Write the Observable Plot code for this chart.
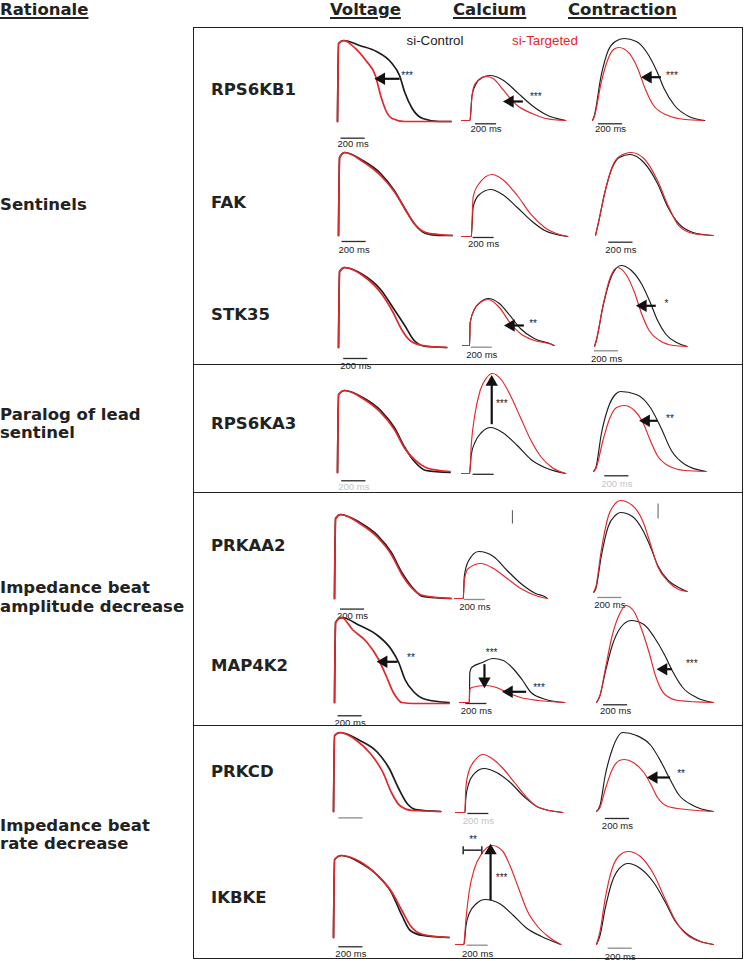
<!DOCTYPE html>
<html><head><meta charset="utf-8">
<script src="https://cdn.jsdelivr.net/npm/d3@7"></script>
<script src="https://cdn.jsdelivr.net/npm/@observablehq/plot@0.6"></script>
<style>
html,body{margin:0;padding:0;background:#fff;}
#root{position:relative;width:744px;height:961px;overflow:hidden;background:#fff;}
.lbl{position:absolute;font-family:"DejaVu Sans",Verdana,sans-serif;font-weight:bold;font-size:16.5px;color:#222;line-height:18.4px;white-space:nowrap;}
.hdr{line-height:19.2px;text-decoration:underline;text-underline-offset:1.5px;text-decoration-thickness:1.5px;}
.leg{position:absolute;font-family:"Liberation Sans",Arial,sans-serif;font-size:13.3px;white-space:nowrap;transform:translate(-50%,-50%);}
.box{position:absolute;border:1.5px solid #222;box-sizing:border-box;}
.sep{position:absolute;height:0;border-top:1.5px solid #222;}
</style></head>
<body><div id="root"></div>
<script>
// ---------------- DATA (time in ms, amplitude in a.u.) ----------------
const headers = ["Rationale", "Voltage", "Calcium", "Contraction"];
const genes = ["RPS6KB1", "FAK", "STK35", "RPS6KA3", "PRKAA2", "MAP4K2", "PRKCD", "IKBKE"];
const rationales = [["Sentinels"], ["Paralog of lead", "sentinel"], ["Impedance beat", "amplitude decrease"], ["Impedance beat", "rate decrease"]];
const legendLabels = ["si-Control", "si-Targeted"];
const scaleBarMs = 200;

// Voltage
const V_RPS6KB1_c = [[0,0],[9,78],[52,81],[183,76],[322,70],[444,59],[513,46],[557,29],[618,13],[705,3],[844,0],[940,0]];
const V_RPS6KB1_t = [[0,0],[9,78],[52,81],[148,73],[235,61],[313,46],[357,26],[400,11],[452,3],[557,0],[940,0]];
const V_FAK_c = [[0,0],[9,78],[52,83],[200,75],[348,62],[461,45],[548,27],[626,12],[722,2],[827,0],[940,0]];
const V_FAK_t = [[0,0],[9,78],[52,83],[200,74],[348,60],[461,44],[548,27],[626,12],[722,3],[827,1],[940,0]];
const V_STK35_c = [[0,0],[9,76],[52,80],[200,73],[348,58],[461,38],[548,22],[626,7],[722,1],[896,0]];
const V_STK35_t = [[0,0],[9,76],[52,80],[200,72],[348,55],[452,35],[522,18],[592,7],[696,2],[896,0]];
const V_RPS6KA3_c = [[0,0],[9,78],[61,82],[209,75],[357,62],[470,45],[557,25],[644,10],[731,2],[931,0]];
const V_RPS6KA3_t = [[0,0],[9,78],[61,82],[209,74],[357,60],[470,43],[557,24],[644,12],[731,5],[844,2],[931,1]];
const V_PRKAA2_c = [[0,0],[9,80],[50,84],[209,76],[357,63],[470,46],[557,26],[644,11],[731,2],[966,0]];
const V_PRKAA2_t = [[0,0],[9,80],[50,84],[209,75],[357,61],[470,44],[557,24],[644,10],[731,3],[966,0]];
const V_MAP4K2_c = [[0,0],[9,80],[58,85],[209,77],[357,67],[470,53],[531,40],[583,23],[661,10],[757,3],[948,0]];
const V_MAP4K2_t = [[0,0],[9,80],[58,85],[148,73],[270,60],[365,43],[426,27],[487,10],[557,0],[650,-1],[948,-1]];
const V_PRKCD_c = [[0,0],[9,76],[55,79],[218,71],[365,59],[461,43],[539,23],[609,8],[679,2],[887,0]];
const V_PRKCD_t = [[0,0],[9,76],[55,79],[191,71],[305,58],[409,39],[479,19],[548,6],[653,1],[887,0]];
const V_IKBKE_c = [[0,0],[9,78],[67,82],[218,75],[365,62],[479,45],[566,22],[635,7],[740,2],[957,0]];
const V_IKBKE_t = [[0,0],[9,78],[67,82],[218,76],[365,62],[479,46],[566,27],[635,12],[740,3],[957,0]];

// Calcium
const C_RPS6KB1_c = [[0,0],[80,0],[100,25],[140,37],[200,43],[270,45],[400,40],[530,28],[670,15],[800,6],[990,0]];
const C_RPS6KB1_t = [[0,0],[80,0],[100,25],[130,37],[230,44],[300,42],[400,30],[530,15],[670,7],[800,2],[990,0]];
const C_FAK_c = [[0,0],[93,0],[110,29],[160,41],[277,47],[390,42],[530,29],[660,16],[790,6],[1010,0]];
const C_FAK_t = [[0,0],[93,0],[110,39],[160,52],[290,62],[390,57],[530,41],[660,22],[790,9],[930,2],[1010,0]];
const C_STK35_c = [[0,0],[67,0],[73,23],[117,37],[167,43],[243,47],[350,42],[450,30],[550,17],[680,7],[850,1],[870,0]];
const C_STK35_t = [[0,0],[67,0],[73,23],[117,37],[167,43],[243,46],[350,38],[450,23],[550,12],[680,5],[850,1],[870,0]];
const C_RPS6KA3_c = [[0,0],[77,0],[93,19],[127,31],[190,41],[277,46],[390,41],[530,28],[660,14],[790,6],[990,0]];
const C_RPS6KA3_t = [[0,0],[77,0],[93,29],[127,59],[177,83],[240,96],[293,100],[377,94],[460,79],[560,56],[660,33],[760,16],[860,6],[990,0]];
const C_PRKAA2_c = [[0,0],[83,0],[93,22],[130,37],[230,47],[370,42],[500,28],[630,15],[770,5],[870,1],[880,0]];
const C_PRKAA2_t = [[0,0],[83,0],[93,18],[130,30],[250,35],[370,30],[500,20],[630,10],[770,3],[880,0]];
const C_MAP4K2_c = [[0,0],[93,0],[98,30],[115,35],[217,40],[317,44],[417,42],[517,33],[600,22],[680,10],[820,3],[1000,0]];
const C_MAP4K2_t = [[0,0],[93,0],[98,13],[115,15],[250,17],[350,15],[450,10],[580,5],[750,2],[1000,0]];
const C_PRKCD_c = [[0,0],[90,0],[97,13],[123,28],[190,40],[270,44],[390,40],[520,30],[660,15],[790,5],[1020,0]];
const C_PRKCD_t = [[0,0],[90,0],[97,23],[123,40],[190,53],[260,58],[360,53],[460,43],[560,30],[660,17],[790,5],[1020,0]];
const C_IKBKE_c = [[0,0],[80,0],[100,19],[130,31],[200,41],[280,45],[417,41],[550,29],[680,16],[817,8],[1000,0]];
const C_IKBKE_t = [[0,0],[80,0],[83,3],[100,26],[130,53],[180,76],[250,91],[350,99],[450,93],[517,79],[600,56],[680,34],[780,18],[880,8],[1000,0]];

// Contraction
const K_RPS6KB1_c = [[0,0],[15,5],[72,45],[130,70],[189,79],[261,82],[363,79],[450,68],[537,48],[592,32],[679,15],[798,4],[928,0]];
const K_RPS6KB1_t = [[0,0],[15,4],[72,38],[130,62],[174,71],[218,73],[305,67],[374,52],[435,32],[505,15],[624,5],[766,1],[914,0]];
const K_FAK_c = [[0,0],[23,12],[81,45],[139,68],[197,78],[284,81],[400,73],[513,52],[600,28],[687,12],[806,3],[974,0]];
const K_FAK_t = [[0,0],[23,12],[81,45],[139,69],[197,79],[296,83],[400,77],[513,55],[600,30],[687,10],[806,2],[974,0]];
const K_STK35_c = [[0,0],[15,6],[72,41],[130,67],[218,81],[305,76],[392,62],[461,44],[522,26],[592,12],[679,4],[766,0]];
const K_STK35_t = [[0,0],[15,6],[72,42],[130,69],[189,79],[261,72],[331,54],[392,32],[452,16],[539,6],[653,1],[766,0]];
const K_RPS6KA3_c = [[0,0],[20,4],[64,37],[122,64],[180,77],[224,80],[354,77],[470,64],[557,44],[644,21],[757,7],[931,0]];
const K_RPS6KA3_t = [[0,0],[20,3],[78,31],[137,54],[191,64],[252,66],[339,61],[409,49],[470,31],[528,16],[615,6],[757,1],[931,0]];
const K_PRKAA2_c = [[0,0],[20,4],[64,36],[122,66],[180,77],[224,80],[322,76],[409,62],[470,46],[531,27],[618,12],[705,5],[774,1]];
const K_PRKAA2_t = [[0,0],[20,6],[64,42],[122,76],[180,89],[224,92],[322,87],[409,71],[470,49],[531,26],[618,11],[705,3],[774,1]];
const K_MAP4K2_c = [[0,0],[29,7],[72,30],[130,57],[200,75],[287,82],[392,78],[479,65],[566,47],[626,32],[713,15],[827,5],[966,0]];
const K_MAP4K2_t = [[0,0],[29,7],[72,33],[130,67],[189,88],[241,97],[305,92],[374,73],[435,50],[493,25],[566,8],[679,2],[966,0]];
const K_PRKCD_c = [[0,0],[29,6],[72,36],[130,62],[218,79],[331,76],[450,66],[537,49],[609,32],[679,17],[798,6],[966,0]];
const K_PRKCD_t = [[0,0],[29,4],[72,22],[130,42],[189,51],[232,52],[305,49],[392,39],[450,27],[505,14],[592,5],[740,2],[966,0]];
const K_IKBKE_c = [[0,0],[29,9],[72,36],[130,63],[189,76],[261,81],[363,76],[479,61],[566,43],[653,23],[766,9],[966,0]];
const K_IKBKE_t = [[0,0],[29,13],[72,46],[130,76],[189,89],[261,93],[363,88],[479,69],[566,46],[653,24],[766,8],[966,0]];

// Significance annotations: [t_from, amp_from, t_to, amp_to]
const arrows_RPS6KB1_V = [[513,42.7,339,42.7]];
const arrows_RPS6KB1_C = [[583,19,433,19]];
const arrows_RPS6KB1_K = [[566,43.3,435,43.3]];
const arrows_STK35_C = [[583,20,433,20]];
const arrows_STK35_K = [[507,40.7,377,40.7]];
const arrows_RPS6KA3_C = [[287,49.3,287,94.3]];
const arrows_RPS6KA3_K = [[528,50.7,412,50.7]];
const arrows_MAP4K2_V = [[522,40.7,383,40.7]];
const arrows_MAP4K2_C = [[237,38.3,237,18.3],[633,10.7,443,10.7]];
const arrows_MAP4K2_K = [[624,33.3,531,33.3]];
const arrows_PRKCD_K = [[609,34,450,34]];
const arrows_IKBKE_C = [[333,44.3,333,96.7]];
// stars: [t, amp, label]
const stars_RPS6KB1_V = [[528,46,"***"]];
const stars_RPS6KB1_C = [[650,23.3,"***"]];
const stars_RPS6KB1_K = [[609,45,"***"]];
const stars_STK35_C = [[633,21.7,"**"]];
const stars_STK35_K = [[580,42.3,"*"]];
const stars_RPS6KA3_C = [[327,69.3,"***"]];
const stars_RPS6KA3_K = [[600,52.3,"**"]];
const stars_MAP4K2_V = [[600,44.3,"**"]];
const stars_MAP4K2_C = [[250,50,"***"],[700,15,"***"]];
const stars_MAP4K2_K = [[740,38.3,"***"]];
const stars_PRKCD_K = [[667,37.3,"**"]];
const stars_IKBKE_C = [[383,66.7,"***"],[130,104.3,"**"]];
const bracket_IKBKE_C = [[73,250,94.3]];
const ticks_PRKAA2_C = [[550,75,88.3]];
const ticks_PRKAA2_K = [[534,74,89]];

// ---------------- LAYOUT ----------------
const root = document.getElementById("root");
const COL = {V:{pxms:0.1209,tmax:1000,w:1.7}, C:{pxms:0.1053,tmax:1050,w:1.15}, K:{pxms:0.1209,tmax:1000,w:1.15}};
const AMAX = 110, MT = 8, MB = 32, ML = 12, MR = 12;
const BLACK = "#1c1c1c", RED = "#e2262a";

// panel placement (page px): x0 = left of trace, base = baseline
// bar: [t start, px below base, label px below base or null, gray, faint label px below base]
const panels = [
 {g:"RPS6KB1",col:"V",x0:337.1,base:121,c:V_RPS6KB1_c,t:V_RPS6KB1_t,bar:[29,16.7,22.5,0],ar:arrows_RPS6KB1_V,st:stars_RPS6KB1_V},
 {g:"RPS6KB1",col:"C",x0:460.5,base:120,c:C_RPS6KB1_c,t:C_RPS6KB1_t,bar:[133,3.3,8.8,0],ar:arrows_RPS6KB1_C,st:stars_RPS6KB1_C},
 {g:"RPS6KB1",col:"K",x0:592.0,base:120,c:K_RPS6KB1_c,t:K_RPS6KB1_t,bar:[49,3.3,8.8,0],ar:arrows_RPS6KB1_K,st:stars_RPS6KB1_K},
 {g:"FAK",col:"V",x0:337.8,base:235,c:V_FAK_c,t:V_FAK_t,bar:[29,6,14.3,0]},
 {g:"FAK",col:"C",x0:461.2,base:235.7,c:C_FAK_c,t:C_FAK_t,bar:[110,1,7.6,0]},
 {g:"FAK",col:"K",x0:594.5,base:235,c:K_FAK_c,t:K_FAK_t,bar:[110,6.7,14.3,0]},
 {g:"STK35",col:"V",x0:337.8,base:346.7,c:V_STK35_c,t:V_STK35_t,bar:[43,11,18.3,0]},
 {g:"STK35",col:"C",x0:462.3,base:345,c:C_STK35_c,t:C_STK35_t,bar:[83,1.7,9,1],ar:arrows_STK35_C,st:stars_STK35_C},
 {g:"STK35",col:"K",x0:593.8,base:345.7,c:K_STK35_c,t:K_STK35_t,bar:[0,4.3,12,1],ar:arrows_STK35_K,st:stars_STK35_K},
 {g:"RPS6KA3",col:"V",x0:337.1,base:471.7,c:V_RPS6KA3_c,t:V_RPS6KA3_t,bar:[35,8.3,null,0,14.5]},
 {g:"RPS6KA3",col:"C",x0:461.2,base:472.7,c:C_RPS6KA3_c,t:C_RPS6KA3_t,bar:[110,0.8,null,0],ar:arrows_RPS6KA3_C,st:stars_RPS6KA3_C},
 {g:"RPS6KA3",col:"K",x0:593.1,base:470.7,c:K_RPS6KA3_c,t:K_RPS6KA3_t,bar:[93,4.3,null,0,12],ar:arrows_RPS6KA3_K,st:stars_RPS6KA3_K},
 {g:"PRKAA2",col:"V",x0:333.6,base:597.7,c:V_PRKAA2_c,t:V_PRKAA2_t,bar:[49,10.6,17.3,0]},
 {g:"PRKAA2",col:"C",x0:453.5,base:598.3,c:C_PRKAA2_c,t:C_PRKAA2_t,bar:[93,1,8.4,1],tk:ticks_PRKAA2_C},
 {g:"PRKAA2",col:"K",x0:593.1,base:592.3,c:K_PRKAA2_c,t:K_PRKAA2_t,bar:[35,5,12.7,1],tk:ticks_PRKAA2_K},
 {g:"MAP4K2",col:"V",x0:333.6,base:701.7,c:V_MAP4K2_c,t:V_MAP4K2_t,bar:[29,13.3,20.6,0],ar:arrows_MAP4K2_V,st:stars_MAP4K2_V},
 {g:"MAP4K2",col:"C",x0:458.8,base:701.7,c:C_MAP4K2_c,t:C_MAP4K2_t,bar:[60,1,8.3,0],ar:arrows_MAP4K2_C,st:stars_MAP4K2_C},
 {g:"MAP4K2",col:"K",x0:595.5,base:701.7,c:K_MAP4K2_c,t:K_MAP4K2_t,bar:[58,2.3,8.3,0],ar:arrows_MAP4K2_K,st:stars_MAP4K2_K},
 {g:"PRKCD",col:"V",x0:332.5,base:811.3,c:V_PRKCD_c,t:V_PRKCD_t,bar:[44,6.4,null,1]},
 {g:"PRKCD",col:"C",x0:454.6,base:812,c:C_PRKCD_c,t:C_PRKCD_t,bar:[117,1,null,0,8.5]},
 {g:"PRKCD",col:"K",x0:595.5,base:811,c:K_PRKCD_c,t:K_PRKCD_t,bar:[73,7,14.3,0],ar:arrows_PRKCD_K,st:stars_PRKCD_K},
 {g:"IKBKE",col:"V",x0:332.5,base:936.7,c:V_IKBKE_c,t:V_IKBKE_t,bar:[44,9.3,16.6,0]},
 {g:"IKBKE",col:"C",x0:455.3,base:944.3,c:C_IKBKE_c,t:C_IKBKE_t,bar:[110,0.7,9,1],ar:arrows_IKBKE_C,st:stars_IKBKE_C,br:bracket_IKBKE_C},
 {g:"IKBKE",col:"K",x0:595.5,base:944.3,c:K_IKBKE_c,t:K_IKBKE_t,bar:[96,3.7,12.4,1]}
];

function drawPanel(p){
  const c = COL[p.col];
  const w = ML + c.tmax*c.pxms + MR, h = MT + AMAX + MB;
  const marks = [];
  const [bt, by, bl, gray, faint] = p.bar;
  const lblFont = {fontSize:9.5, fontFamily:"Liberation Sans, Arial, sans-serif", textAnchor:"middle", lineAnchor:"middle"};
  marks.push(Plot.ruleY([{a:bt, b:bt+scaleBarMs, y:-by}], {x1:"a", x2:"b", y:"y", stroke: gray ? "#8c8c8c" : "#2a2a2a", strokeWidth:1.3}));
  if (bl != null) marks.push(Plot.text([{x:bt+scaleBarMs/2, y:-bl, s:scaleBarMs+" ms"}], {x:"x", y:"y", text:"s", fill:"#222", ...lblFont}));
  if (faint != null) marks.push(Plot.text([{x:bt+scaleBarMs/2, y:-faint, s:scaleBarMs+" ms"}], {x:"x", y:"y", text:"s", fill:"#c4c4c4", ...lblFont}));
  marks.push(Plot.line(p.c, {x:d=>d[0], y:d=>d[1], stroke:BLACK, strokeWidth:c.w, curve:"monotone-x"}));
  marks.push(Plot.line(p.t, {x:d=>d[0], y:d=>d[1], stroke:RED, strokeWidth:c.w, curve:"monotone-x"}));
  for (const a of (p.ar||[])) {
    const [t1,a1,t2,a2] = a;
    let rot = 0, dx = 0, dy = 0;
    if (a2 === a1) { rot = t2 < t1 ? -90 : 90; dx = t2 < t1 ? 3 : -3; }
    else { rot = a2 > a1 ? 0 : 180; dy = a2 > a1 ? 3 : -3; }
    marks.push(Plot.link([a], {x1:d=>d[0], y1:d=>d[1], x2:d=>d[2], y2:d=>d[3], stroke:"#111", strokeWidth:2.2}));
    marks.push(Plot.dot([a], {x:d=>d[2], y:d=>d[3], symbol:"triangle", r:4.6, fill:"#111", stroke:"none", rotate:rot, dx, dy}));
  }
  for (const b of (p.br||[])) {
    marks.push(Plot.link([b], {x1:d=>d[0], x2:d=>d[1], y1:d=>d[2], y2:d=>d[2], stroke:"#333", strokeWidth:1.6}));
    marks.push(Plot.link([b], {x1:d=>d[0], x2:d=>d[0], y1:d=>d[2]-4, y2:d=>d[2]+4, stroke:"#333", strokeWidth:1.6}));
    marks.push(Plot.link([b], {x1:d=>d[1], x2:d=>d[1], y1:d=>d[2]-4, y2:d=>d[2]+4, stroke:"#333", strokeWidth:1.6}));
  }
  for (const k of (p.tk||[])) {
    marks.push(Plot.link([k], {x1:d=>d[0], x2:d=>d[0], y1:d=>d[1], y2:d=>d[2], stroke:"#555", strokeWidth:1}));
  }
  if (p.st) marks.push(Plot.text(p.st, {x:d=>d[0], y:d=>d[1], text:d=>d[2], fontSize:10, fontFamily:"Liberation Sans, Arial, sans-serif", fill:"#1a1a1a", stroke:"none", textAnchor:"start", lineAnchor:"middle"}));
  const svg = Plot.plot({
    width:w, height:h, marginTop:MT, marginBottom:MB, marginLeft:ML, marginRight:MR,
    x:{domain:[0,c.tmax], axis:null}, y:{domain:[0,AMAX], axis:null},
    style:{background:"transparent", overflow:"visible"},
    marks
  });
  svg.style.position = "absolute";
  svg.style.left = (p.x0 - ML) + "px";
  svg.style.top = (p.base - AMAX - MT) + "px";
  svg.style.maxWidth = "none";
  root.append(svg);
}

function addText(cls, text, x, y, extra){
  const d = document.createElement("div");
  d.className = cls; d.textContent = text;
  d.style.left = x + "px"; d.style.top = y + "px";
  if (extra) Object.assign(d.style, extra);
  root.append(d);
  return d;
}

// box + separators
const box = document.createElement("div"); box.className = "box";
Object.assign(box.style, {left:"193px", top:"26.5px", width:"549.5px", height:"932px"});
root.append(box);
for (const y of [365, 493, 726]) {
  const s = document.createElement("div"); s.className = "sep";
  Object.assign(s.style, {left:"193px", width:"549.5px", top:(y-0.75)+"px"});
  root.append(s);
}

// headers
const hdrX = [0, 330, 453, 568];
headers.forEach((h,i) => addText("lbl hdr", h, hdrX[i], 0));

// rationale labels (line centers)
const ratY = [205, 415, 588.3, 826];
rationales.forEach((lines,i) => lines.forEach((ln,j) => addText("lbl", ln, 0, ratY[i] + j*18.4 - 9.2)));

// gene labels
const geneY = [90, 203, 315, 424, 546, 666, 772, 898];
genes.forEach((g,i) => addText("lbl", g, 211, geneY[i] - 9.2));

// legend
addText("leg", legendLabels[0], 435, 40, {color:"#222"});
addText("leg", legendLabels[1], 545, 40, {color:RED});

panels.forEach(drawPanel);
</script>
</body></html>
